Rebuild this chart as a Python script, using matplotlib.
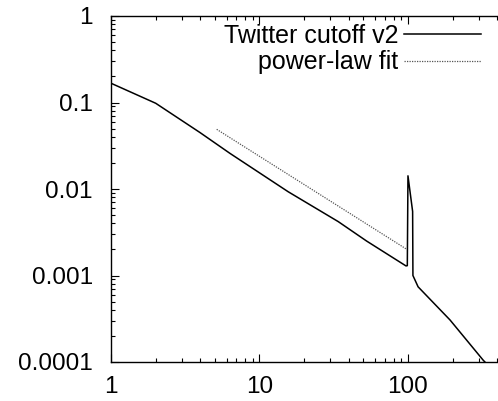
import matplotlib
matplotlib.use('Agg')
import matplotlib.pyplot as plt
from matplotlib.ticker import LogLocator, NullFormatter, FixedFormatter, FixedLocator

plt.rcParams['font.family'] = ['Liberation Sans', 'DejaVu Sans']

# degree distribution, cut off at 100
twitter_x = [1, 2, 3.97, 6.33, 15.6, 33.9, 52.7, 97, 99, 100, 107.5, 108, 117, 192, 321, 350]
twitter_y = [0.167, 0.098, 0.045, 0.0258, 0.0093, 0.0042, 0.0025, 0.00129, 0.0013,
             0.0142, 0.0055, 0.00100, 0.00074, 0.000306, 0.000105, 0.00009]

# fitted power law
fit_x = [5.15, 98]
fit_y = [0.049, 0.00201]

ytick_vals = [1e-4, 1e-3, 1e-2, 1e-1, 1]
ytick_labels = ['0.0001', '0.001', '0.01', '0.1', '1']
xtick_vals = [1, 10, 100]
xtick_labels = ['1', '10', '100']

fig = plt.figure(figsize=(4.98, 4.01), dpi=100)
ax = fig.add_axes([111/498, 1 - 362/401, 1 - 111/498, (362 - 16)/401])

ax.plot(twitter_x, twitter_y, color='black', lw=1.1, label='Twitter cutoff v2')
ax.plot(fit_x, fit_y, color='#555555', lw=0.9, linestyle=(0, (1, 1)), label='power-law fit')

ax.set_xscale('log')
ax.set_yscale('log')
ax.set_xlim(1, 404)
ax.set_ylim(1e-4, 1)

ax.xaxis.set_major_locator(FixedLocator(xtick_vals))
ax.xaxis.set_major_formatter(FixedFormatter(xtick_labels))
ax.yaxis.set_major_locator(FixedLocator(ytick_vals))
ax.yaxis.set_major_formatter(FixedFormatter(ytick_labels))
ax.xaxis.set_minor_locator(LogLocator(base=10, subs=range(2, 10), numticks=20))
ax.yaxis.set_minor_locator(LogLocator(base=10, subs=range(2, 10), numticks=20))
ax.xaxis.set_minor_formatter(NullFormatter())
ax.yaxis.set_minor_formatter(NullFormatter())

ax.spines['right'].set_visible(False)
for s in ['left', 'bottom', 'top']:
    ax.spines[s].set_linewidth(1.0)

ax.tick_params(which='both', direction='in', top=True, right=False, width=0.8)
ax.tick_params(which='major', length=6)
ax.tick_params(which='minor', length=3)
ax.tick_params(axis='y', which='major', labelsize=17.5, pad=13)
ax.tick_params(axis='x', which='major', labelsize=17.5, pad=10)

leg = ax.legend(loc='upper right', bbox_to_anchor=((481 - 111)/387, 1 - (24 - 16)/346),
                frameon=False, markerfirst=False, fontsize=18, borderpad=0,
                borderaxespad=0, handlelength=3.1, handletextpad=0.2, labelspacing=0.09)

fig.savefig('out.png', dpi=100)
